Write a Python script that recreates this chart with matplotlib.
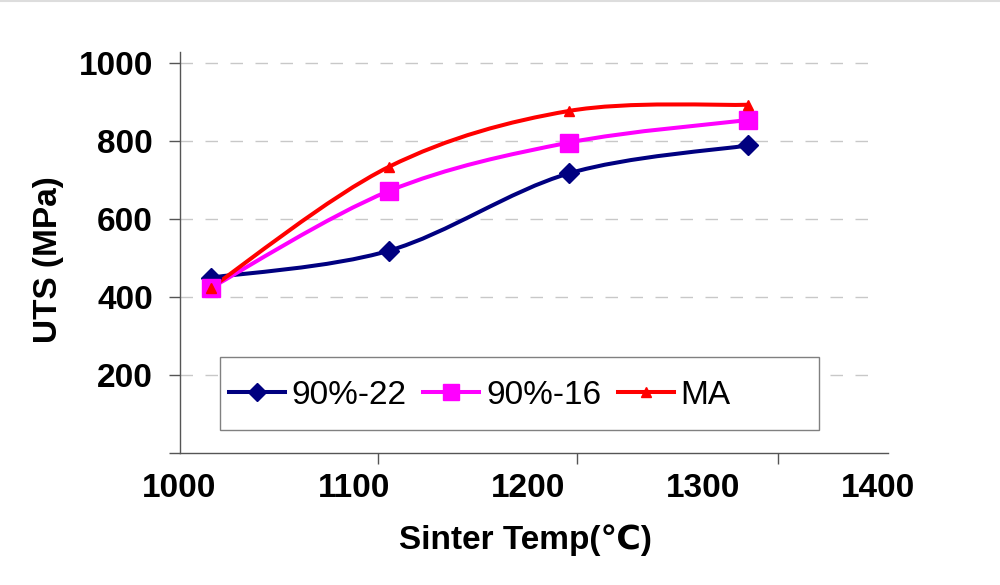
import matplotlib
matplotlib.use("Agg")
import matplotlib.pyplot as plt
from matplotlib.path import Path
from matplotlib.patches import PathPatch, Rectangle
from matplotlib.lines import Line2D

# data
temps = [1018, 1120, 1223, 1326]
uts_90_22 = [450, 519, 717, 789]
uts_90_16 = [424, 672, 796, 854]
uts_ma = [424, 734, 877, 893]

series = [
    ("90%-22", uts_90_22, "#000080", "D", 10),
    ("90%-16", uts_90_16, "#FF00FF", "s", 13.5),
    ("MA", uts_ma, "#FF0000", "^", 7.5),
]

x_ticks = [1000, 1100, 1200, 1300, 1400]
y_ticks = [0, 200, 400, 600, 800, 1000]

FONT = ["Liberation Sans", "DejaVu Sans"]
plt.rcParams["font.family"] = FONT


def smooth_path(xs, ys):
    # excel-style smoothed line (catmull-rom as bezier segments)
    pts = list(zip(xs, ys))
    n = len(pts)
    verts = [pts[0]]
    codes = [Path.MOVETO]
    for i in range(n - 1):
        p0 = pts[max(i - 1, 0)]
        p1 = pts[i]
        p2 = pts[i + 1]
        p3 = pts[min(i + 2, n - 1)]
        c1 = (p1[0] + (p2[0] - p0[0]) / 6, p1[1] + (p2[1] - p0[1]) / 6)
        c2 = (p2[0] - (p3[0] - p1[0]) / 6, p2[1] - (p3[1] - p1[1]) / 6)
        verts += [c1, c2, p2]
        codes += [Path.CURVE4] * 3
    return Path(verts, codes)


fig = plt.figure(figsize=(10, 5.85), dpi=100)
ax = fig.add_axes([0.1795, 0.2251, 0.7085, 0.6859])

ax.set_xlim(1000, 1406)
ax.set_ylim(0, 1028)

# dashed gridlines
ax.hlines(y_ticks[1:], 1000, 1400, colors="#c8c8c8", linewidth=1,
          linestyles=(0, (9, 9)), zorder=1)

handles = []
for name, vals, col, mk, ms in series:
    ax.add_patch(PathPatch(smooth_path(temps, vals), fill=False,
                           edgecolor=col, linewidth=2.9, zorder=3))
    ax.plot(temps, vals, linestyle="none", marker=mk, markersize=ms,
            color=col, zorder=4)
    handles.append(Line2D([], [], color=col, linewidth=2.9, marker=mk,
                          markersize=ms * 0.9, label=name))

for s in ["top", "right"]:
    ax.spines[s].set_visible(False)
for s in ["left", "bottom"]:
    ax.spines[s].set_color("#555555")
    ax.spines[s].set_linewidth(1)

ax.set_yticks(y_ticks)
ax.set_yticklabels([""] + [str(v) for v in y_ticks[1:]])
ax.tick_params(axis="y", direction="out", length=8, width=1, color="#555555",
               pad=11, labelsize=24)

ax.set_xticks(x_ticks)
ax.set_xticklabels([str(v) for v in x_ticks])
ax.set_xticks([1000, 1114, 1228, 1343], minor=True)
ax.tick_params(axis="x", which="major", length=0, pad=14, labelsize=24)
ax.tick_params(axis="x", which="minor", direction="out", length=8, width=1,
               color="#555555")

for lab in ax.get_xticklabels() + ax.get_yticklabels():
    lab.set_fontweight("bold")

ax.set_xlabel("Sinter Temp(\u2103)", fontsize=24, fontweight="bold")
ax.xaxis.set_label_coords(0.4877, -0.178)
ax.set_ylabel("UTS (MPa)", fontsize=24, fontweight="bold")
ax.yaxis.set_label_coords(-0.163, 0.483)

# legend box
fig.add_artist(Rectangle((0.220, 0.265), 0.599, 0.125, transform=fig.transFigure,
                         facecolor="white", edgecolor="#808080", linewidth=1,
                         zorder=2))
fig.legend(handles=handles, loc="center left", bbox_to_anchor=(0.229, 1 - 395 / 585),
           bbox_transform=fig.transFigure, ncol=3, frameon=False, fontsize=24,
           borderpad=0, borderaxespad=0, handlelength=1.68, handletextpad=0.2,
           columnspacing=0.5)

# thin grey strip along the top edge
fig.add_artist(Line2D([0, 1], [0.998, 0.998], transform=fig.transFigure,
                      color="#dddddd", linewidth=1.5))

plt.savefig("out.png", dpi=100)
plt.close()
